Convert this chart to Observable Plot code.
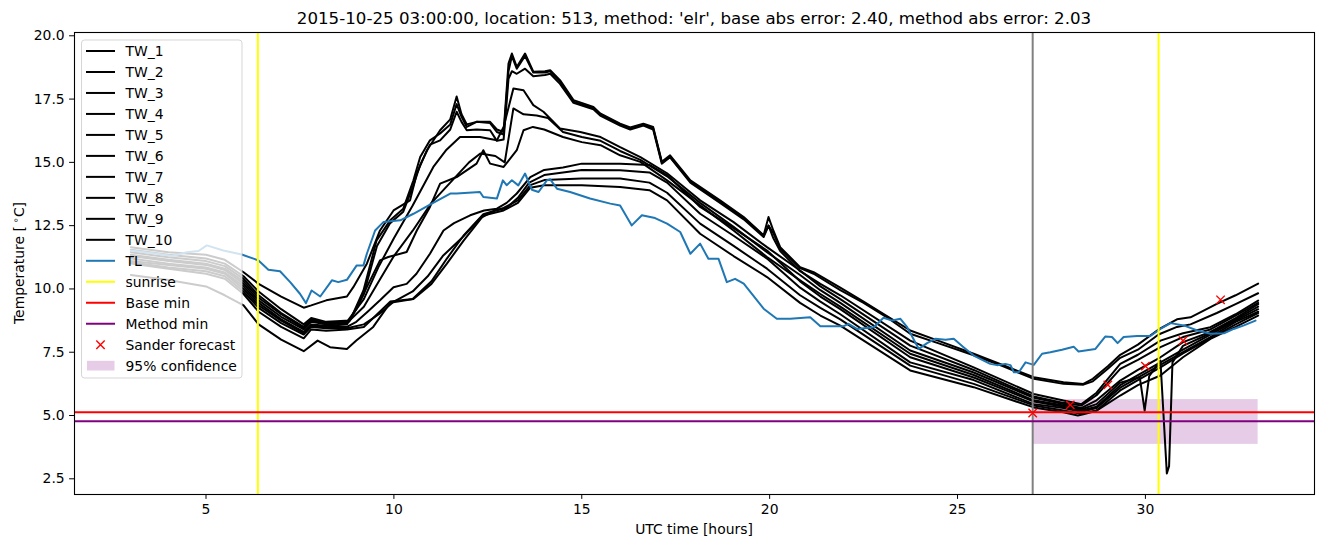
<!DOCTYPE html>
<html><head><meta charset="utf-8">
<script src="https://cdn.jsdelivr.net/npm/d3@7"></script>
<script src="https://cdn.jsdelivr.net/npm/@observablehq/plot@0.6"></script>
<style>body{margin:0;background:#fff;} svg{display:block}</style>
</head><body><div id="chart"></div>
<script>
// ---- data (hours, °C) ----
const TW_1 = [[3,11.65],[4,11.45],[5,11.35],[5.5,11.15],[6,10.66],[6.4,10.2],[7,9.7],[7.6,9.26],[7.8,9.35],[8.2,9.55],[8.75,9.7],[8.92,10.07],[9.28,11.0],[9.63,12.31],[9.99,13.1],[10.43,13.5],[10.61,14.56],[10.88,15.48],[11.23,16.27],[11.5,16.7],[11.67,17.6],[11.8,16.9],[11.94,16.5],[12.2,16.6],[12.56,16.6],[12.74,16.3],[12.92,16.2],[13.05,18.9],[13.14,19.3],[13.27,18.77],[13.49,19.3],[13.71,18.58],[14.02,18.6],[14.16,18.64],[14.42,18.25],[14.78,17.46],[15.31,17.19],[15.49,16.93],[16.02,16.53],[16.29,16.38],[16.64,16.53],[16.9,16.4],[17.13,15.02],[17.35,15.28],[17.89,14.29],[18.68,13.5],[19.31,12.84],[19.84,12.12],[19.97,12.84],[20.1,12.3],[20.28,11.65],[20.81,10.86],[21.17,10.66],[21.88,10.05],[22.5,9.5],[23.1,8.95],[23.74,8.36],[24.5,7.95],[25.43,7.44],[26.2,7.0],[27.03,6.51],[27.82,6.31],[28.35,6.25],[28.6,6.45],[29.0,6.95],[29.33,7.4],[29.8,7.8],[30.35,8.4],[30.84,8.8],[31.2,8.88],[31.9,9.41],[32.4,9.75],[33.0,10.21]];
const TW_2 = [[3,11.55],[4,11.35],[5,11.2],[5.5,11.0],[6,10.5],[6.4,9.9],[7,9.2],[7.6,8.6],[7.8,8.85],[8.2,8.7],[8.83,8.75],[9.19,9.94],[9.54,11.92],[9.9,12.71],[10.25,13.17],[10.52,14.29],[10.7,15.21],[10.96,15.87],[11.23,16.14],[11.5,16.5],[11.67,17.3],[11.8,16.8],[11.94,16.4],[12.2,16.6],[12.56,16.55],[12.74,16.2],[12.92,16.1],[13.05,18.6],[13.14,19.2],[13.27,18.7],[13.49,19.2],[13.71,18.55],[14.02,18.55],[14.16,18.6],[14.42,18.2],[14.78,17.4],[15.31,17.15],[15.49,16.9],[16.02,16.5],[16.29,16.35],[16.64,16.5],[16.9,16.35],[17.13,15.0],[17.35,15.22],[17.89,14.25],[18.68,13.45],[19.31,12.8],[19.84,12.1],[19.97,12.5],[20.1,12.2],[20.28,11.6],[20.81,10.82],[21.17,10.6],[21.88,9.95],[22.5,9.45],[23.1,8.9],[23.74,8.23],[24.5,7.85],[25.43,7.38],[26.2,6.95],[27.03,6.45],[27.82,6.25],[28.35,6.22],[28.6,6.35],[29.0,6.85],[29.33,7.28],[29.8,7.6],[30.35,8.2],[30.84,8.5],[31.2,8.6],[31.9,9.05],[32.4,9.4],[33.0,9.83]];
const TW_3 = [[3,11.45],[4,11.25],[5,11.1],[5.5,10.9],[6,10.4],[6.4,9.75],[7,9.05],[7.6,8.5],[7.8,8.8],[8.2,8.65],[8.8,8.7],[9.2,9.8],[9.55,11.7],[9.9,12.6],[10.25,13.05],[10.52,14.1],[10.7,14.9],[10.96,15.7],[11.23,15.87],[11.5,16.3],[11.67,17.0],[11.8,16.6],[11.94,16.27],[12.2,16.3],[12.56,16.27],[12.74,15.85],[12.92,15.9],[13.05,18.3],[13.14,18.6],[13.27,18.5],[13.49,18.7],[13.71,18.4],[14.02,18.45],[14.16,18.5],[14.42,18.1],[14.78,17.35],[15.31,17.1],[15.49,16.85],[16.02,16.45],[16.29,16.3],[16.64,16.45],[16.9,16.3],[17.13,14.95],[17.35,15.2],[17.89,14.2],[18.68,13.4],[19.31,12.75],[19.84,12.05],[19.97,12.5],[20.1,12.0],[20.28,11.5],[20.81,10.7],[21.35,10.2],[21.88,9.75],[23.74,7.96],[25.43,6.9],[27.03,5.85],[27.82,5.59],[28.3,5.45],[28.7,5.9],[29.33,7.04],[29.8,7.4],[30.4,7.96],[31.0,8.25],[31.73,8.49],[32.4,9.0],[33.0,9.54]];
const TW_4 = [[3,11.35],[4,11.15],[5,11.0],[5.5,10.8],[6,10.3],[6.4,9.65],[7,9.0],[7.6,8.45],[7.8,8.75],[8.2,8.6],[8.75,8.7],[9.2,9.6],[9.6,10.9],[10.0,12.0],[10.5,13.3],[11.05,14.82],[11.4,15.5],[11.76,16.0],[12.29,16.0],[12.74,15.87],[12.92,16.4],[13.18,17.92],[13.45,17.85],[13.71,17.26],[13.98,17.0],[14.42,16.34],[14.96,16.2],[15.5,16.0],[16.02,15.6],[16.56,15.21],[17.27,14.57],[18.15,13.5],[19.04,12.64],[19.93,11.65],[20.81,10.73],[21.35,10.1],[21.88,9.6],[23.74,7.76],[25.43,6.8],[27.03,5.75],[27.82,5.5],[28.3,5.4],[28.7,5.8],[29.33,6.84],[29.8,7.2],[30.4,7.7],[31.0,8.1],[31.73,8.4],[32.4,8.95],[33.0,9.45]];
const TW_5 = [[3,11.3],[4,11.1],[5,10.95],[5.5,10.75],[6,10.2],[6.4,9.55],[7,8.9],[7.6,8.4],[7.8,8.7],[8.2,8.6],[8.75,8.65],[9.2,9.3],[9.6,10.3],[10.0,11.3],[10.5,12.3],[11.0,13.4],[11.5,14.2],[12.0,15.0],[12.3,15.35],[12.7,15.25],[12.95,15.0],[13.18,17.13],[13.45,16.9],[13.8,16.85],[14.1,16.75],[14.5,16.2],[15.0,16.0],[15.5,15.85],[16.02,15.45],[16.56,15.1],[17.27,14.45],[18.15,13.4],[19.04,12.45],[19.93,11.45],[20.81,10.55],[21.35,9.95],[21.88,9.45],[23.74,7.57],[25.43,6.7],[27.03,5.7],[27.82,5.45],[28.3,5.3],[28.7,5.6],[29.33,6.38],[29.8,6.8],[30.4,7.3],[31.0,7.9],[31.73,8.3],[32.4,8.85],[33.0,9.4]];
const TW_6 = [[3,11.2],[4,11.0],[5,10.85],[5.5,10.65],[6,10.1],[6.4,9.45],[7,8.8],[7.6,8.3],[7.8,8.6],[8.2,8.55],[8.75,8.6],[9.0,9.2],[9.28,10.07],[9.63,11.13],[9.85,11.26],[10.34,11.46],[10.61,12.31],[10.96,13.24],[11.23,14.16],[11.67,14.42],[12.2,14.95],[12.38,15.48],[12.56,14.95],[12.92,14.82],[13.27,15.48],[13.45,16.27],[13.7,16.4],[14.0,16.3],[14.5,16.0],[15.0,15.8],[15.5,15.68],[16.02,15.28],[16.56,15.02],[17.27,14.29],[18.15,13.3],[19.04,12.31],[19.93,11.26],[20.81,10.34],[21.35,9.8],[21.88,9.3],[23.74,7.44],[25.43,6.6],[27.03,5.6],[27.82,5.4],[28.3,5.25],[28.7,5.45],[29.33,6.3],[29.85,6.51],[29.98,5.19],[30.1,6.55],[30.4,7.17],[30.57,2.71],[30.63,3.0],[30.72,7.1],[31.0,7.75],[31.73,8.25],[32.4,8.8],[33.0,9.3]];
const TW_7 = [[3,11.1],[4,10.95],[5,10.8],[5.5,10.6],[6,10.0],[6.4,9.35],[7,8.75],[7.6,8.25],[7.8,8.55],[8.2,8.5],[8.75,8.5],[9.0,8.7],[9.3,9.1],[9.63,9.55],[9.99,10.07],[10.34,10.2],[10.6,10.6],[10.96,11.39],[11.32,12.31],[11.6,12.6],[12.03,12.91],[12.4,13.1],[12.74,13.17],[13.0,13.4],[13.27,13.77],[13.63,14.42],[14.0,14.7],[14.5,14.8],[15.0,14.95],[16.02,14.95],[16.8,14.9],[17.27,14.5],[18.15,13.24],[19.04,12.4],[19.93,11.52],[20.81,10.3],[21.35,9.7],[21.88,9.2],[23.74,7.3],[25.43,6.5],[27.03,5.55],[27.82,5.35],[28.3,5.2],[28.7,5.35],[29.33,6.2],[29.8,6.6],[30.4,7.1],[31.0,7.6],[31.73,8.2],[32.4,8.75],[33.0,9.2]];
const TW_8 = [[3,11.05],[4,10.85],[5,10.7],[5.5,10.5],[6,9.9],[6.4,9.25],[7,8.65],[7.6,8.2],[7.8,8.5],[8.2,8.45],[8.75,8.45],[9.2,8.6],[9.6,9.0],[10.0,9.5],[10.5,9.9],[10.9,10.5],[11.3,11.3],[11.8,12.0],[12.3,12.8],[12.7,13.1],[13.0,13.2],[13.3,13.6],[13.6,14.2],[14.0,14.5],[14.5,14.6],[15.0,14.7],[16.02,14.69],[16.8,14.6],[17.27,14.2],[18.15,12.97],[19.04,12.1],[19.93,11.2],[20.81,10.05],[21.35,9.5],[21.88,9.0],[23.74,7.1],[25.43,6.4],[27.03,5.45],[27.82,5.3],[28.3,5.15],[28.7,5.3],[29.33,6.1],[29.8,6.5],[30.4,7.0],[31.0,7.5],[31.73,8.1],[32.4,8.7],[33.0,9.1]];
const TW_9 = [[3,11.0],[4,10.8],[5,10.6],[5.5,10.4],[6,9.8],[6.4,9.1],[7,8.5],[7.6,8.05],[7.8,8.4],[8.2,8.35],[8.75,8.4],[9.2,8.5],[9.45,8.85],[9.9,9.5],[10.5,9.6],[11.0,10.3],[11.41,11.2],[11.85,12.1],[12.38,12.95],[12.92,13.2],[13.3,13.5],[13.63,14.1],[14.0,14.3],[15.0,14.36],[16.02,14.36],[16.8,14.2],[17.27,13.8],[18.15,12.58],[19.04,11.7],[19.93,10.8],[20.81,9.75],[21.35,9.25],[21.88,8.8],[23.74,6.97],[25.43,6.25],[27.03,5.4],[27.82,5.2],[28.3,5.07],[28.7,5.2],[29.33,5.99],[29.8,6.4],[30.4,6.9],[31.0,7.45],[31.73,8.05],[32.4,8.6],[33.0,9.05]];
const TW_10 = [[3,10.55],[4,10.35],[5,10.1],[5.5,9.75],[6,9.35],[6.4,8.6],[7,8.0],[7.6,7.54],[7.97,7.96],[8.3,7.7],[8.75,7.63],[9.0,7.96],[9.45,8.5],[9.9,9.45],[10.52,9.6],[11.0,10.2],[11.41,11.0],[11.85,11.9],[12.38,12.9],[12.92,13.1],[13.3,13.4],[13.63,14.0],[14.0,14.1],[15.0,14.1],[16.02,14.03],[16.8,13.9],[17.27,13.5],[18.15,12.18],[19.04,11.3],[19.93,10.47],[20.81,9.45],[21.35,8.95],[21.88,8.55],[23.74,6.78],[25.43,6.12],[27.03,5.32],[27.82,5.13],[28.2,5.0],[28.35,5.05],[28.7,5.19],[29.33,5.79],[29.8,6.2],[30.4,6.58],[31.0,7.3],[31.73,8.03],[32.4,8.5],[33.0,8.95]];
const TL = [[3,11.52],[3.69,11.39],[4.1,11.3],[4.49,11.45],[4.8,11.5],[5.02,11.72],[5.46,11.52],[5.95,11.36],[6.39,11.13],[6.66,10.76],[6.97,10.7],[7.24,10.27],[7.5,9.81],[7.66,9.44],[7.81,9.94],[8.04,9.7],[8.35,10.34],[8.52,10.27],[8.75,10.36],[9.01,10.93],[9.19,10.93],[9.28,11.39],[9.5,12.31],[9.72,12.64],[10.17,12.71],[10.52,12.97],[10.96,13.33],[11.5,13.77],[11.67,13.77],[12.29,13.83],[12.38,13.63],[12.74,13.57],[12.9,14.29],[13.0,14.1],[13.14,14.29],[13.31,14.09],[13.49,14.56],[13.67,13.92],[13.85,13.83],[14.07,14.29],[14.16,14.33],[14.34,13.96],[14.69,13.83],[15.22,13.57],[15.76,13.37],[16.02,13.3],[16.33,12.51],[16.6,12.91],[16.95,12.8],[17.27,12.58],[17.62,12.25],[17.89,11.39],[18.15,11.79],[18.37,11.19],[18.64,11.19],[18.86,10.27],[19.08,10.4],[19.31,10.21],[19.84,9.22],[20.19,8.82],[20.55,8.82],[21.08,8.88],[21.35,8.53],[21.97,8.53],[22.1,8.62],[22.32,8.42],[22.77,8.49],[23.03,8.86],[23.26,8.75],[23.48,8.82],[23.66,8.49],[23.97,7.63],[24.19,7.86],[24.41,8.03],[24.68,7.99],[24.9,8.03],[25.16,7.7],[25.43,7.37],[25.87,7.04],[26.05,6.99],[26.27,7.04],[26.41,6.99],[26.5,6.71],[26.63,6.71],[26.81,7.1],[27.03,7.0],[27.25,7.44],[27.47,7.5],[27.78,7.6],[28.09,7.72],[28.22,7.53],[28.67,7.63],[28.93,8.12],[29.11,8.1],[29.26,7.86],[29.42,8.1],[29.78,8.14],[30.13,8.14],[30.4,8.42],[30.67,8.65],[31.02,8.56],[31.38,8.36],[31.73,8.23],[32.09,8.25],[32.35,8.42],[32.62,8.56],[32.93,8.75]];
const sunrise = [6.38, 30.35];
const forecastTime = [27];
const baseMin = [5.13];
const methodMin = [4.77];
const sanderT = [27, 28, 29, 30, 31, 32];
const sanderV = [5.1, 5.42, 6.21, 6.95, 7.96, 9.57];
const confT = [27, 33];
const confV = [3.86, 5.63];
const xTicks = [5, 10, 15, 20, 25, 30];
const yTicks = [2.5, 5, 7.5, 10, 12.5, 15, 17.5, 20];
const twNames = ["TW_1","TW_2","TW_3","TW_4","TW_5","TW_6","TW_7","TW_8","TW_9","TW_10"];
const legendLabels = [...twNames, "TL", "sunrise", "Base min", "Method min", "Sander forecast", "95% confidence"];
const titleText = "2015-10-25 03:00:00, location: 513, method: 'elr', base abs error: 2.40, method abs error: 2.03";

// ---- build tables ----
const twSeries = [TW_1,TW_2,TW_3,TW_4,TW_5,TW_6,TW_7,TW_8,TW_9,TW_10];
const twData = twSeries.flatMap((arr, i) => arr.map(([t, v]) => ({series: twNames[i], t, v})));
const tlData = TL.map(([t, v]) => ({t, v}));
const sanderData = sanderT.map((t, i) => ({t, v: sanderV[i]}));
const confData = [{x1: confT[0], x2: confT[1], y1: confV[0], y2: confV[1]}];

const FONT = "DejaVu Sans, sans-serif";
const svg = Plot.plot({
  width: 1324, height: 547,
  marginLeft: 74, marginRight: 10, marginTop: 32, marginBottom: 53,
  style: {fontFamily: FONT, fontSize: "13.9px", color: "black", background: "white", overflow: "visible"},
  x: {domain: [1.5, 34.5], label: null},
  y: {domain: [1.88, 20.13], label: null},
  marks: [
    Plot.rect(confData, {x1: "x1", x2: "x2", y1: "y1", y2: "y2", fill: "purple", fillOpacity: 0.2}),
    Plot.line(twData, {x: "t", y: "v", z: "series", stroke: "black", strokeWidth: 2}),
    Plot.line(tlData, {x: "t", y: "v", stroke: "#1f77b4", strokeWidth: 2}),
    Plot.ruleX(sunrise, {stroke: "yellow", strokeWidth: 2}),
    Plot.ruleX(forecastTime, {stroke: "gray", strokeWidth: 2}),
    Plot.ruleY(baseMin, {stroke: "red", strokeWidth: 2}),
    Plot.ruleY(methodMin, {stroke: "purple", strokeWidth: 2}),
    Plot.dot(sanderData, {x: "t", y: "v", symbol: "times", r: 3.9, stroke: "red", strokeWidth: 1.4}),
    Plot.frame({stroke: "black", strokeWidth: 1.1}),
    Plot.axisX({ticks: xTicks, tickSize: 4.9, tickPadding: 4.9, label: null, tickFormat: d => String(d)}),
    Plot.axisY({ticks: yTicks, tickSize: 4.9, tickPadding: 4.9, label: null, tickFormat: d3.format(".1f")})
  ]
});
document.getElementById("chart").appendChild(svg);

// ---- title, axis labels, legend ----
const s = d3.select(svg);
s.append("text").attr("x", 694).attr("y", 24).attr("text-anchor", "middle")
  .style("font-family", FONT).style("font-size", "16.67px").attr("fill", "black").text(titleText);
s.append("text").attr("x", 694).attr("y", 534).attr("text-anchor", "middle")
  .style("font-family", FONT).style("font-size", "13.9px").attr("fill", "black").text("UTC time [hours]");
const yl = s.append("text").attr("transform", "translate(23.5,263) rotate(-90)").attr("text-anchor", "middle")
  .style("font-family", FONT).style("font-size", "13.9px").attr("fill", "black");
yl.append("tspan").text("Temperature [");
yl.append("tspan").attr("dx", 3).attr("dy", -5).style("font-size", "9.7px").text("∘");
yl.append("tspan").attr("dy", 5).text("C]");

const lg = s.append("g").attr("text-anchor", "start");
lg.append("rect").attr("x", 81.5).attr("y", 40).attr("width", 160.5).attr("height", 338).attr("rx", 3)
  .attr("fill", "white").attr("fill-opacity", 0.8).attr("stroke", "#cccccc").attr("stroke-opacity", 0.8);
const lineColors = [...twNames.map(() => "black"), "#1f77b4", "yellow", "red", "purple"];
legendLabels.forEach((label, i) => {
  const yc = 51 + 20.98 * i;
  if (i < lineColors.length) {
    lg.append("line").attr("x1", 86).attr("x2", 115).attr("y1", yc).attr("y2", yc)
      .attr("stroke", lineColors[i]).attr("stroke-width", 2);
  } else if (label === "Sander forecast") {
    const d = 4.2;
    lg.append("path").attr("d", `M${100.5-d},${yc-d}L${100.5+d},${yc+d}M${100.5-d},${yc+d}L${100.5+d},${yc-d}`)
      .attr("stroke", "red").attr("stroke-width", 1.4).attr("fill", "none");
  } else {
    lg.append("rect").attr("x", 87).attr("y", yc - 4.9).attr("width", 27.5).attr("height", 9.7)
      .attr("fill", "purple").attr("fill-opacity", 0.2);
  }
  lg.append("text").attr("x", 125.5).attr("y", yc).attr("dy", "0.36em").attr("text-anchor", "start")
    .style("font-family", FONT).style("font-size", "13.9px").attr("fill", "black").text(label);
});
</script>
</body></html>
